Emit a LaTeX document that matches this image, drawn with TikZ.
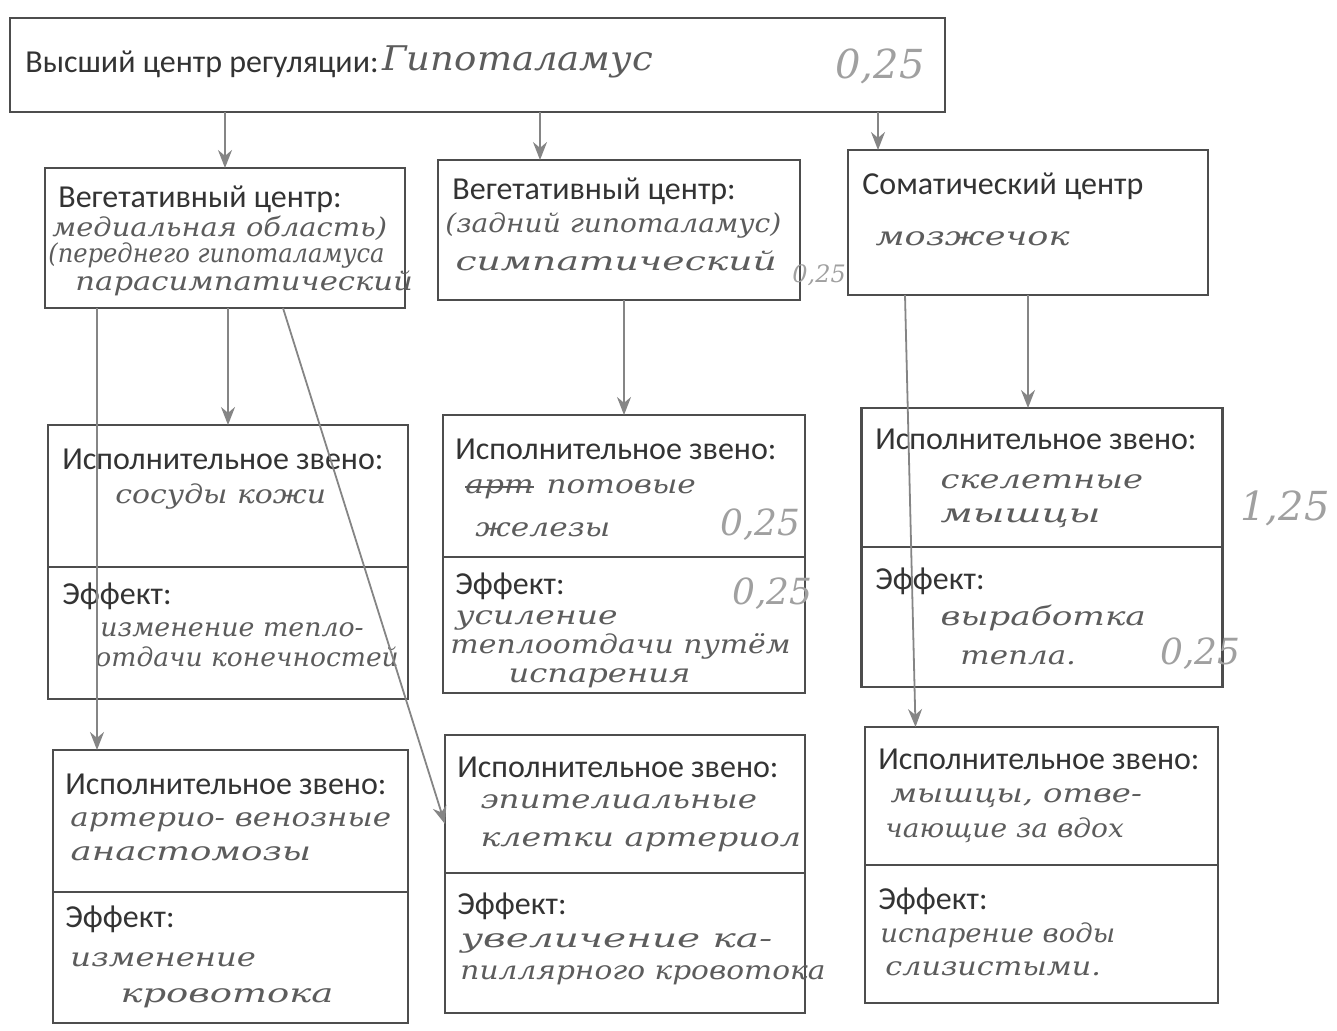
\documentclass[tikz,border=0pt]{standalone}
\usepackage{fontspec}
\setmainfont{Carlito}
\newfontfamily\handfont{DejaVu Serif}
\usetikzlibrary{positioning,arrows.meta}
\definecolor{boxgray}{HTML}{4D4D4D}
\definecolor{arrgray}{HTML}{858585}
\definecolor{inkgray}{HTML}{5C5C5C}
\definecolor{penlight}{HTML}{A0A0A0}
\tikzset{
  box/.style={draw=boxgray, line width=1.3pt, rectangle, inner sep=0pt, outer sep=0pt},
  arr/.style={draw=arrgray, line width=0.9pt, -{Stealth[length=9pt,width=7pt]}},
  prt/.style={anchor=base west, inner sep=0pt, text=black!80, font=\fontsize{16}{19}\selectfont},
  hand/.style={anchor=base west, inner sep=0pt, text=inkgray, transform shape, font=\handfont\itshape\fontsize{13}{15}\selectfont},
  grade/.style={anchor=base west, inner sep=0pt, text=penlight, font=\handfont\itshape\fontsize{18}{20}\selectfont},
}
\begin{document}
\begin{tikzpicture}[x=0.5pt,y=-0.5pt]
  \useasboundingbox (0,0) rectangle (1337,1030);
  % Boxes (top to bottom)
  \node (top) at (477.5,65) [box, minimum width=467.5pt, minimum height=47pt] {};
  \node (vegL) at (225,238) [box, minimum width=180pt, minimum height=70pt] {};
  \node (vegM) at (619,230) [box, minimum width=181pt, minimum height=70pt] {};
  \node (som) at (1028,222.5) [box, minimum width=180pt, minimum height=72.5pt] {};
  \node (isL1) at (228,496) [box, minimum width=180pt, minimum height=71pt] {};
  \node (efL1) [box, below=0pt of isL1, minimum width=180pt, minimum height=66pt] {};
  \node (isM1) at (624,486) [box, minimum width=181pt, minimum height=71pt] {};
  \node (efM1) [box, below=0pt of isM1, minimum width=181pt, minimum height=68pt] {};
  \node (isR1) at (1042,477.5) [box, minimum width=180.5pt, minimum height=69.5pt] {};
  \node (efR1) [box, below=0pt of isR1, minimum width=180.5pt, minimum height=70pt] {};
  \node (isL2) at (230.5,821) [box, minimum width=177.5pt, minimum height=71pt] {};
  \node (efL2) [box, below=0pt of isL2, minimum width=177.5pt, minimum height=65.5pt] {};
  \node (isM2) at (625,804) [box, minimum width=180pt, minimum height=69pt] {};
  \node (efM2) [box, below=0pt of isM2, minimum width=180pt, minimum height=70pt] {};
  \node (isR2) at (1041.5,796) [box, minimum width=176.5pt, minimum height=69pt] {};
  \node (efR2) [box, below=0pt of isR2, minimum width=176.5pt, minimum height=69pt] {};
  % Texts
  \node (t1) at (25,72) [prt] {Высший центр регуляции:};
  \node (h1) at (382,70) [hand, xscale=1.09, font=\handfont\itshape\fontsize{17}{19}\selectfont] {Гипоталамус};
  \node (g1) at (835,78) [grade, font=\handfont\itshape\fontsize{20}{22}\selectfont] {0,25};
  \node (t2) at (58,207) [prt] {Вегетативный центр:};
  \node (h2) at (52,236) [hand, xscale=1.11] {медиальная область)};
  \node (h3) at (48,262) [hand, xscale=0.93] {(переднего гипоталамуса};
  \node (h4) at (75,290) [hand, xscale=1.18] {парасимпатический};
  \node (t3) at (452,199) [prt] {Вегетативный центр:};
  \node (h5) at (445,232) [hand, xscale=1.08] {(задний гипоталамус)};
  \node (h6) at (455,270) [hand, xscale=1.45] {симпатический};
  \node (g2) at (792,282) [grade, font=\handfont\itshape\fontsize{12}{14}\selectfont] {0,25};
  \node (t4) at (862,194) [prt] {Соматический центр};
  \node (h7) at (875,245) [hand, xscale=1.35] {мозжечок};
  \node (t5) at (62,469) [prt] {Исполнительное звено:};
  \node (h8) at (115,503) [hand, xscale=1.15] {сосуды кожи};
  \node (t6) at (62,604) [prt] {Эффект:};
  \node (h9) at (100,636) [hand, xscale=1.03] {изменение тепло-};
  \node (h10) at (95,666) [hand, xscale=1.02] {отдачи конечностей};
  \node (t7) at (455,459) [prt] {Исполнительное звено:};
  \node (h11a) at (465,493) [hand, xscale=1.2] {арт};
  \node (h11) [hand, xscale=1.2, right=6pt of h11a.base east, anchor=base west] {потовые};
  \node (h12) at (475,536) [hand, xscale=1.2] {железы};
  \node (g3) at (720,535) [grade] {0,25};
  \node (t8) at (455,594) [prt] {Эффект:};
  \node (g4) at (732,604) [grade] {0,25};
  \node (h13) at (455,624) [hand, xscale=1.27] {усиление};
  \node (h14) at (450,653) [hand, xscale=1.15] {теплоотдачи путём};
  \node (h15) at (508,682) [hand, xscale=1.24] {испарения};
  \node (t9) at (875,449) [prt] {Исполнительное звено:};
  \node (h16) at (940,488) [hand, xscale=1.3] {скелетные};
  \node (h17) at (940,522) [hand, xscale=1.5] {мышцы};
  \node (g5) at (1240,520) [grade, font=\handfont\itshape\fontsize{20}{23}\selectfont] {1,25};
  \node (t10) at (875,589) [prt] {Эффект:};
  \node (h18) at (940,625) [hand, xscale=1.32] {выработка};
  \node (h19) at (960,664) [hand, xscale=1.19] {тепла.};
  \node (g6) at (1160,664) [grade] {0,25};
  \node (t11) at (65,794) [prt] {Исполнительное звено:};
  \node (h20) at (70,826) [hand, xscale=1.19] {артерио- венозные};
  \node (h21) at (70,860) [hand, xscale=1.37] {анастомозы};
  \node (t12) at (65,927) [prt] {Эффект:};
  \node (h22) at (70,966) [hand, xscale=1.24] {изменение};
  \node (h23) at (120,1002) [hand, xscale=1.42] {кровотока};
  \node (t13) at (457,777) [prt] {Исполнительное звено:};
  \node (h24) at (480,808) [hand, xscale=1.25] {эпителиальные};
  \node (h25) at (480,846) [hand, xscale=1.28] {клетки артериол};
  \node (t14) at (457,914) [prt] {Эффект:};
  \node (h26) at (460,947) [hand, xscale=1.5] {увеличение ка-};
  \node (h27) at (460,979) [hand, xscale=1.14] {пиллярного кровотока};
  \node (t15) at (878,769) [prt] {Исполнительное звено:};
  \node (h28) at (890,802) [hand, xscale=1.24] {мышцы, отве-};
  \node (h29) at (885,837) [hand, xscale=1.08] {чающие за вдох};
  \node (t16) at (878,909) [prt] {Эффект:};
  \node (h30) at (880,942) [hand, xscale=1.06] {испарение воды};
  \node (h31) at (885,975) [hand, xscale=1.16] {слизистыми.};
  % strike-out of the crossed word
  \draw[inkgray, line width=0.9pt] ([yshift=1pt]h11a.west) -- ([yshift=1pt]h11a.east);
  % Edges
  \draw[arr] (top.south -| vegL.north) -- (vegL.north);
  \draw[arr] ([xshift=-39.5pt]vegM.north |- top.south) -- ([xshift=-39.5pt]vegM.north);
  \draw[arr] ([xshift=-75pt]som.north |- top.south) -- ([xshift=-75pt]som.north);
  \draw[arr] (vegL.south -| isL1.north) -- (isL1.north);
  \draw[arr] ([xshift=-64pt]vegL.south) -- ([xshift=-64pt]vegL.south |- isL2.north);
  \draw[arr] ([xshift=29pt]vegL.south) -- ([yshift=-10pt]isM2.west);
  \draw[arr] (vegM.south -| isM1.north) -- (isM1.north);
  \draw[arr] (som.south) -- (som.south |- isR1.north);
  \draw[arr] ([xshift=-61.5pt]som.south) -- ([xshift=-63pt]isR2.north);
\end{tikzpicture}
\end{document}
